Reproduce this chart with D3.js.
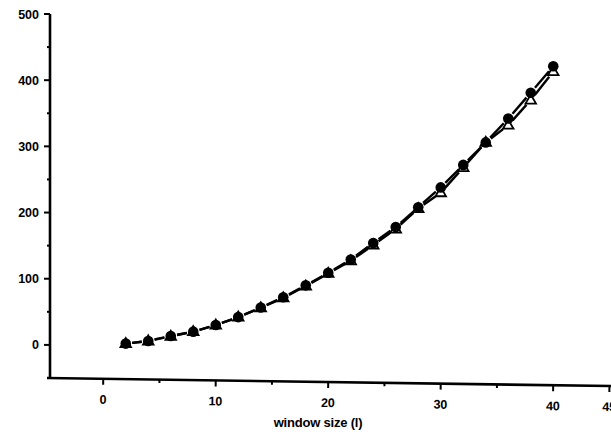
<!DOCTYPE html>
<html>
<head>
<meta charset="utf-8">
<script src="https://cdn.jsdelivr.net/npm/d3@7"></script>
<style>
  html, body { margin: 0; padding: 0; background: #fff; }
  svg { display: block; }
  text { font-family: "Liberation Sans", Arial, sans-serif; font-weight: bold; fill: #000; }
</style>
</head>
<body>
<svg id="chart" width="611" height="439"></svg>
<script>
// window size values (x) shared by both series
const windowSizes = [2, 4, 6, 8, 10, 12, 14, 16, 18, 20, 22, 24, 26, 28, 30, 32, 34, 36, 38, 40];
// filled-circle series
const circleValues = [2, 6, 13.5, 20, 30, 42, 56.5, 72, 90, 109, 129, 154, 178, 208, 238, 272, 306, 342, 381, 421];
// open-triangle series
const triangleValues = [2, 6, 13, 20, 30, 42, 56, 71, 89, 108, 127, 151, 175, 206, 230, 268, 306, 332, 370, 413];

const xTickValues = [0, 10, 20, 30, 40, 45];
const xMinorTicks = [5, 15, 25, 35];
const yTickValues = [0, 100, 200, 300, 400, 500];
const yMinorTicks = [-50, 50, 150, 250, 350, 450];
const xTitle = "window size (l)";

const svg = d3.select("#chart");

const x = d3.scaleLinear().domain([-5, 45]).range([47, 609.5]);
const y = d3.scaleLinear().domain([-50, 500]).range([378, 14]);

const originX = x(-5), originY = y(-50);

// ---- y axis ----
const yAxis = svg.append("g").attr("transform", `translate(${originX + 3},0)`);
yAxis.append("line")
  .attr("x1", 0).attr("x2", 0)
  .attr("y1", y(500)).attr("y2", originY)
  .attr("stroke", "#000").attr("stroke-width", 2.6);
yAxis.selectAll(".ymaj").data(yTickValues).join("line")
  .attr("x1", -6).attr("x2", 0)
  .attr("y1", d => y(d)).attr("y2", d => y(d))
  .attr("stroke", "#000").attr("stroke-width", 2);
yAxis.selectAll(".ymin").data(yMinorTicks).join("line")
  .attr("x1", -3).attr("x2", 0)
  .attr("y1", d => y(d)).attr("y2", d => y(d))
  .attr("stroke", "#000").attr("stroke-width", 2);
yAxis.selectAll(".ylab").data(yTickValues).join("text")
  .attr("x", -11).attr("y", d => y(d))
  .attr("dy", "0.36em")
  .attr("text-anchor", "end")
  .attr("font-size", 12.5)
  .text(d => d);

// ---- x axis (slightly tilted, as printed) ----
const xAxis = svg.append("g")
  .attr("transform", `rotate(0.82, ${originX}, ${originY})`);
xAxis.append("line")
  .attr("x1", originX).attr("x2", 616)
  .attr("y1", originY).attr("y2", originY)
  .attr("stroke", "#000").attr("stroke-width", 2.6);
xAxis.selectAll(".xmaj").data(xTickValues).join("line")
  .attr("x1", d => x(d)).attr("x2", d => x(d))
  .attr("y1", originY).attr("y2", originY + 6)
  .attr("stroke", "#000").attr("stroke-width", 2);
xAxis.selectAll(".xmin").data(xMinorTicks).join("line")
  .attr("x1", d => x(d)).attr("x2", d => x(d))
  .attr("y1", originY).attr("y2", originY + 3.5)
  .attr("stroke", "#000").attr("stroke-width", 2);
xAxis.selectAll(".xlab").data(xTickValues).join("text")
  .attr("x", d => x(d)).attr("y", originY + 25)
  .attr("text-anchor", "middle")
  .attr("font-size", 12.5)
  .text(d => d);

svg.append("text")
  .attr("x", 318).attr("y", 427)
  .attr("text-anchor", "middle")
  .attr("font-size", 13)
  .attr("letter-spacing", "-0.2")
  .text(xTitle);

// ---- series ----
const circles = windowSizes.map((l, i) => ({ l, v: circleValues[i] }));
const triangles = windowSizes.map((l, i) => ({ l, v: triangleValues[i] }));

// connecting segments stop short of each marker
function drawSegments(data, gap) {
  const segs = d3.pairs(data);
  svg.append("g").selectAll("line").data(segs).join("line")
    .each(function ([a, b]) {
      const x1 = x(a.l), y1 = y(a.v), x2 = x(b.l), y2 = y(b.v);
      const len = Math.hypot(x2 - x1, y2 - y1);
      const ux = (x2 - x1) / len, uy = (y2 - y1) / len;
      d3.select(this)
        .attr("x1", x1 + ux * gap).attr("y1", y1 + uy * gap)
        .attr("x2", x2 - ux * gap).attr("y2", y2 - uy * gap);
    })
    .attr("stroke", "#000").attr("stroke-width", 2.4)
    .attr("stroke-linecap", "butt");
}
drawSegments(triangles, 6.5);
drawSegments(circles, 6.5);

svg.append("g").selectAll("path").data(triangles).join("path")
  .attr("d", d3.symbol().type(d3.symbolTriangle).size(48))
  .attr("transform", d => `translate(${x(d.l)},${y(d.v) + 0.5})`)
  .attr("fill", "#fff").attr("stroke", "#000").attr("stroke-width", 1.8);

svg.append("g").selectAll("circle").data(circles).join("circle")
  .attr("cx", d => x(d.l)).attr("cy", d => y(d.v))
  .attr("r", 5.3)
  .attr("fill", "#000");
</script>
</body>
</html>
